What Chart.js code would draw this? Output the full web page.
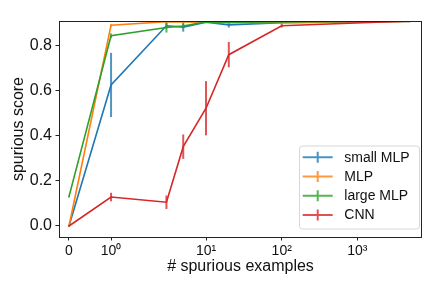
<!DOCTYPE html>
<html>
<head>
<meta charset="utf-8">
<script src="https://cdn.jsdelivr.net/npm/chart.js@4.4.1/dist/chart.umd.min.js"></script>
<style>
html,body{margin:0;padding:0;background:#fff;}
#wrap{width:432px;height:288px;position:relative;}
</style>
</head>
<body>
<div id="wrap"><canvas id="c" width="432" height="288"></canvas></div>
<script>
// ---- data ----
const xExamples = [0, 1, 3, 5, 10, 20, 100, 5000];
const seriesNames = ['small MLP', 'MLP', 'large MLP', 'CNN'];
const smallMLP    = [0.000, 0.624, 0.886, 0.880, 0.902, 0.890, 0.900, 0.905];
const smallMLPErr = [0.003, 0.142, 0.012, 0.020, 0.004, 0.012, 0.004, 0.002];
const mlp         = [0.000, 0.888, 0.904, 0.903, 0.902, 0.900, 0.901, 0.905];
const mlpErr      = [0.003, 0.005, 0.003, 0.003, 0.003, 0.003, 0.002, 0.002];
const largeMLP    = [0.130, 0.842, 0.878, 0.885, 0.903, 0.902, 0.903, 0.907];
const largeMLPErr = [0.004, 0.010, 0.022, 0.010, 0.003, 0.003, 0.003, 0.002];
const cnn         = [0.000, 0.128, 0.105, 0.351, 0.521, 0.758, 0.886, 0.907];
const cnnErr      = [0.003, 0.019, 0.030, 0.054, 0.120, 0.056, 0.008, 0.003];
const xTickValues = [0, 1, 10, 100, 1000];
const xTickLabels = ['0', '10\u2070', '10\u00b9', '10\u00b2', '10\u00b3'];
const yTickValues = [0, 0.2, 0.4, 0.6, 0.8];
const colors = ['#1f77b4', '#ff7f0e', '#2ca02c', '#d62728'];

// symlog transform (linthresh 2, linscale 1, base 10)
const LINTHRESH = 2, LINSCALE_ADJ = 1 / (1 - 1 / 10);
function symlog(v) {
  const a = Math.abs(v);
  if (a <= LINTHRESH) return v * LINSCALE_ADJ;
  return Math.sign(v) * LINTHRESH * (LINSCALE_ADJ + Math.log10(a / LINTHRESH));
}

const allVals = [smallMLP, mlp, largeMLP, cnn];
const allErrs = [smallMLPErr, mlpErr, largeMLPErr, cnnErr];

function rgba(hex, a) {
  const n = parseInt(hex.slice(1), 16);
  return `rgba(${(n >> 16) & 255},${(n >> 8) & 255},${n & 255},${a})`;
}

const datasets = seriesNames.map((name, i) => ({
  label: name,
  data: xExamples.map((x, j) => ({x: symlog(x), y: allVals[i][j]})),
  borderColor: colors[i],
  backgroundColor: colors[i],
  borderWidth: 1.6,
  pointRadius: 0,
  tension: 0,
  fill: false,
  order: seriesNames.length - 1 - i
}));

const errorBarPlugin = {
  id: 'errorBars',
  afterDatasetDraw(chart, args) {
    const i = args.index;
    const ctx = chart.ctx;
    const xs = chart.scales.x, ys = chart.scales.y;
    ctx.save();
    ctx.beginPath();
    ctx.rect(chart.chartArea.left, chart.chartArea.top, chart.chartArea.right - chart.chartArea.left, chart.chartArea.bottom - chart.chartArea.top);
    ctx.clip();
    ctx.strokeStyle = rgba(colors[i], 0.78);
    ctx.lineWidth = 2;
    xExamples.forEach((x, j) => {
      const px = xs.getPixelForValue(symlog(x));
      const y0 = ys.getPixelForValue(allVals[i][j] - allErrs[i][j]);
      const y1 = ys.getPixelForValue(allVals[i][j] + allErrs[i][j]);
      ctx.beginPath();
      ctx.moveTo(px, y0);
      ctx.lineTo(px, y1);
      ctx.stroke();
    });
    ctx.restore();
  }
};

const framePlugin = {
  id: 'frameLegend',
  afterDatasetsDraw(chart) {
    const ctx = chart.ctx;
    const a = chart.chartArea;
    ctx.save();
    ctx.strokeStyle = '#222';
    ctx.lineWidth = 1;
    ctx.strokeRect(Math.round(a.left) + 0.5, Math.round(a.top) + 0.5, Math.round(a.right - a.left) - 1, Math.round(a.bottom - a.top));
    // legend
    const bx = 299.5, by = 146, bw = 120, bh = 83, r = 3;
    ctx.beginPath();
    ctx.moveTo(bx + r, by);
    ctx.lineTo(bx + bw - r, by);
    ctx.quadraticCurveTo(bx + bw, by, bx + bw, by + r);
    ctx.lineTo(bx + bw, by + bh - r);
    ctx.quadraticCurveTo(bx + bw, by + bh, bx + bw - r, by + bh);
    ctx.lineTo(bx + r, by + bh);
    ctx.quadraticCurveTo(bx, by + bh, bx, by + bh - r);
    ctx.lineTo(bx, by + r);
    ctx.quadraticCurveTo(bx, by, bx + r, by);
    ctx.closePath();
    ctx.fillStyle = 'rgba(255,255,255,0.8)';
    ctx.fill();
    ctx.strokeStyle = '#d6d6d6';
    ctx.lineWidth = 1;
    ctx.stroke();
    ctx.font = '14px "Liberation Sans", Arial, sans-serif';
    ctx.textBaseline = 'middle';
    ctx.textAlign = 'left';
    seriesNames.forEach((name, i) => {
      const cy = 157.3 + i * 19.2;
      ctx.strokeStyle = rgba(colors[i], 0.8);
      ctx.lineWidth = 2;
      ctx.beginPath();
      ctx.moveTo(302.7, cy); ctx.lineTo(332.7, cy);
      ctx.moveTo(317.7, cy - 5.5); ctx.lineTo(317.7, cy + 5.5);
      ctx.stroke();
      ctx.fillStyle = '#111';
      ctx.fillText(name, 344.3, cy + 0.5);
    });
    ctx.restore();
  }
};

const tickFont = {family: '"Liberation Sans", Arial, sans-serif', size: 16};
new Chart(document.getElementById('c'), {
  type: 'line',
  data: {datasets},
  options: {
    responsive: false,
    animation: false,
    devicePixelRatio: 1,
    layout: {padding: {left: 0, top: 21, right: 10, bottom: 0}},
    plugins: {legend: {display: false}, tooltip: {enabled: false}},
    scales: {
      x: {
        type: 'linear',
        min: -0.264,
        max: -0.264 + 363 / 37.85,
        afterFit(s) { s.height = 51; },
        afterBuildTicks(s) { s.ticks = xTickValues.map(v => ({value: symlog(v)})); },
        ticks: {
          font: {family: '"Liberation Sans", Arial, sans-serif', size: 14},
          color: '#111',
          padding: 2.3,
          maxRotation: 0,
          autoSkip: false,
          callback(value, index) { return xTickLabels[index]; }
        },
        grid: {display: true, drawOnChartArea: false, drawTicks: true, tickLength: 3.5, color: '#222', lineWidth: 1},
        border: {display: false},
        title: {display: true, text: '# spurious examples', font: tickFont, color: '#111', padding: {top: 0, bottom: 12}}
      },
      y: {
        type: 'linear',
        min: -0.0487,
        max: 0.907,
        afterFit(s) { s.width = 59; },
        afterBuildTicks(s) { s.ticks = yTickValues.map(v => ({value: v})); },
        ticks: {
          font: tickFont,
          color: '#111',
          padding: 3.5,
          autoSkip: false,
          callback(value) { return Number(value).toFixed(1); }
        },
        grid: {display: true, drawOnChartArea: false, drawTicks: true, tickLength: 3.5, color: '#222', lineWidth: 1},
        border: {display: false},
        title: {display: true, text: 'spurious score', font: tickFont, color: '#111', padding: {top: 8.7, bottom: 0}}
      }
    }
  },
  plugins: [errorBarPlugin, framePlugin]
});
</script>
</body>
</html>
